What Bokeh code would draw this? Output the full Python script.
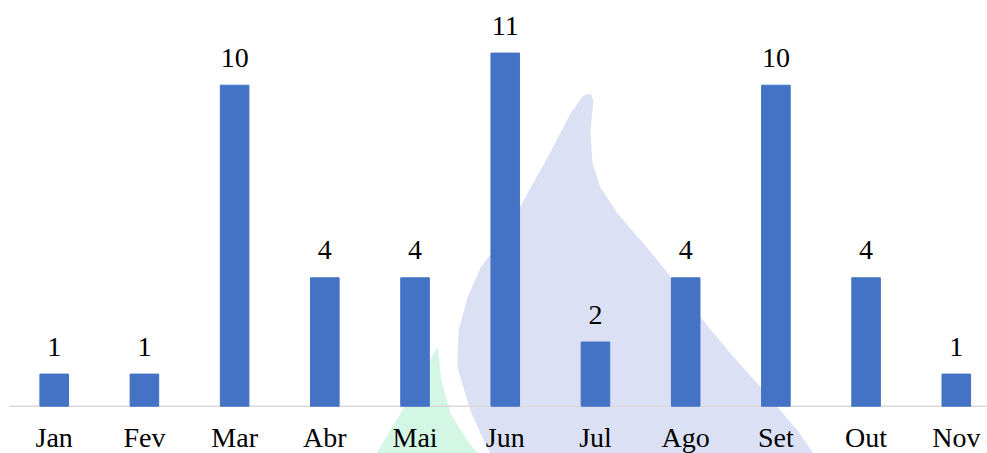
from bokeh.plotting import figure
from bokeh.models import Range1d, ColumnDataSource
from bokeh.embed import file_html
from bokeh.resources import INLINE
from bokeh.core.properties import value

# ---- data ----
months = ["Jan", "Fev", "Mar", "Abr", "Mai", "Jun", "Jul", "Ago", "Set", "Out", "Nov"]
counts = [1, 1, 10, 4, 4, 11, 2, 4, 10, 4, 1]

# ---- decorative background watermark outline (page pixels) ----
drop_px_x = [583, 570, 547, 523, 503, 480, 467, 458, 457, 457, 463, 470, 480, 490,
             813, 797, 763, 730, 697, 663, 643, 617, 600, 592, 590, 593, 590]
drop_px_y = [95, 113, 157, 200, 237, 267, 297, 330, 357, 367, 387, 410, 433, 453,
             453, 430, 390, 353, 313, 267, 243, 213, 187, 163, 130, 100, 93]
leaf_px_x = [437, 441, 450, 467, 477, 376, 385, 403, 420, 432]
leaf_px_y = [346, 380, 413, 440, 453, 453, 438, 408, 380, 355]

W, H = 987, 453
X_UNIT = 90.21      # px per category
Y_UNIT = 32.1       # px per count
LEFT = 8.6          # px from left edge to first category slot
BASE = 405.7        # px from top to the baseline

x_range = Range1d(-LEFT / X_UNIT, (W - LEFT) / X_UNIT)
y_range = Range1d(-(H - BASE) / Y_UNIT, BASE / Y_UNIT)

p = figure(width=W, height=H, x_range=x_range, y_range=y_range,
           output_backend="svg", toolbar_location=None,
           x_axis_location=None, y_axis_location=None, min_border=0)
p.outline_line_color = None
p.grid.visible = False
p.background_fill_color = "white"
p.border_fill_color = "white"

def to_x(px):
    return [(v - LEFT) / X_UNIT for v in px]

def to_y(py):
    return [(BASE - v) / Y_UNIT for v in py]

p.patch(to_x(drop_px_x), to_y(drop_px_y), fill_color="#DCE0F4", line_color=None)
p.patch(to_x(leaf_px_x), to_y(leaf_px_y), fill_color="#D3F6E5", line_color=None)

src = ColumnDataSource(dict(
    x=[i + 0.5 for i in range(len(months))],
    counts=counts,
    label=[str(c) for c in counts],
    month=months,
    zero=[0] * len(months),
))

# category axis baseline
p.segment(x0=[0], y0=[0], x1=[x_range.end], y1=[0], line_color="#D9D9D9", line_width=1.5)

p.vbar(x="x", top="counts", bottom=0, width=0.317, source=src,
       fill_color="#4472C4", line_color="#4472C4")

font = value("Liberation Serif")
p.text(x="x", y="counts", text="label", source=src, text_align="center",
       text_baseline="alphabetic", y_offset=-27.5, text_font=font,
       text_font_size="28px", text_color="#000000")
p.text(x="x", y="zero", text="month", source=src, text_align="center",
       text_baseline="alphabetic", y_offset=31.0, text_font=font,
       text_font_size="28px", text_color="#000000")

open("out.html", "w").write(file_html(p, INLINE))
